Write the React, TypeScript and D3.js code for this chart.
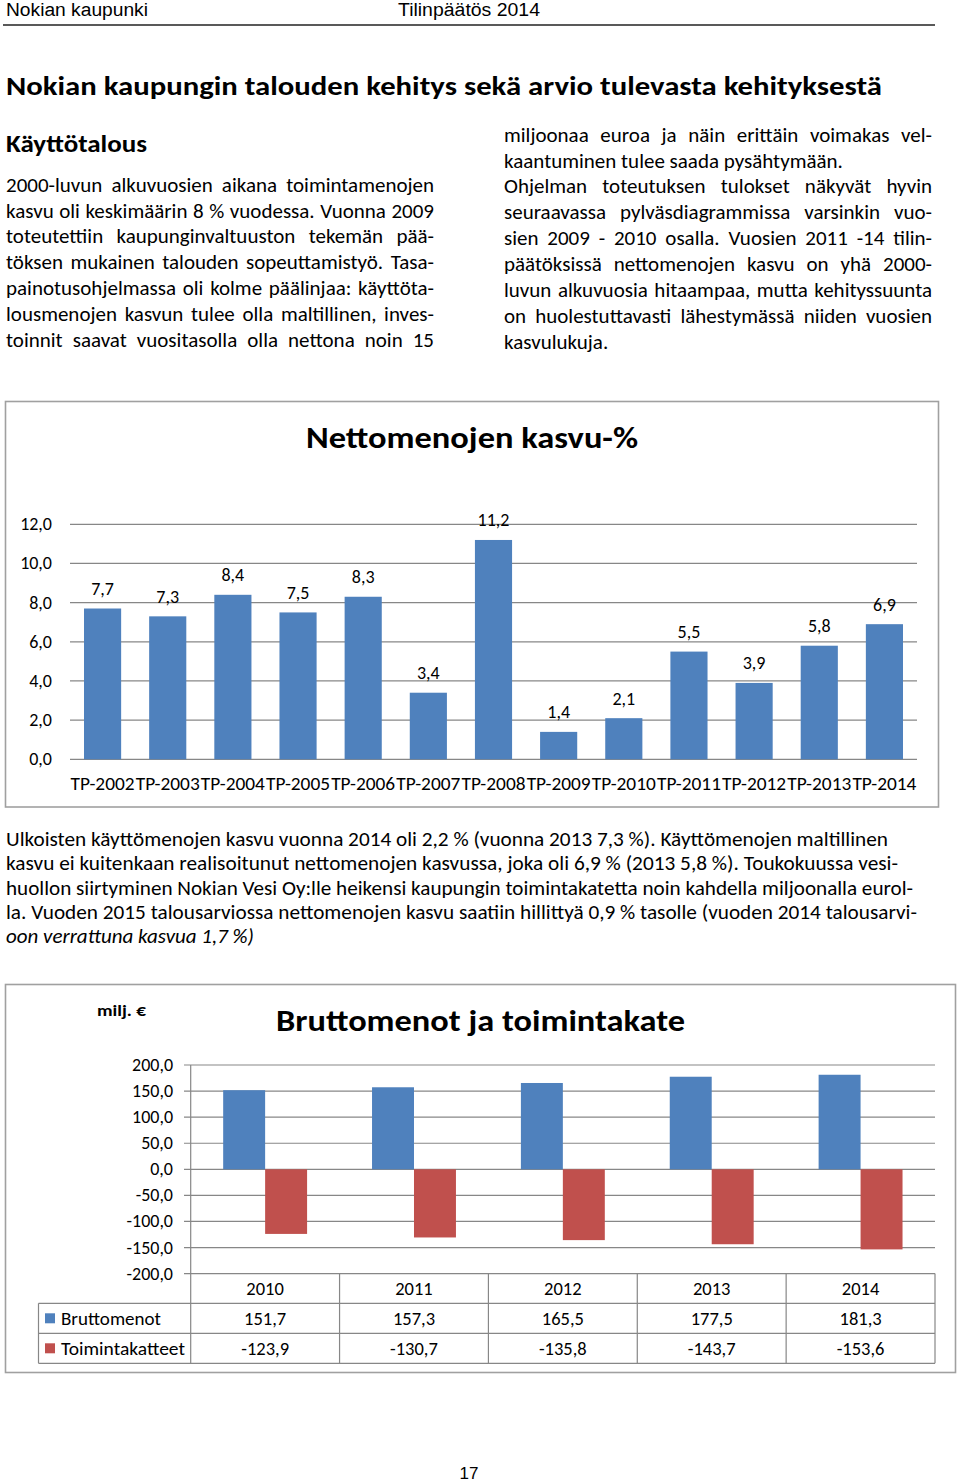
import React, { useEffect, useRef } from "react";
import * as d3 from "d3";

// ---------- DATA ----------
const growthYears = [
  "TP-2002", "TP-2003", "TP-2004", "TP-2005", "TP-2006", "TP-2007", "TP-2008",
  "TP-2009", "TP-2010", "TP-2011", "TP-2012", "TP-2013", "TP-2014",
];
const growthValues = [7.7, 7.3, 8.4, 7.5, 8.3, 3.4, 11.2, 1.4, 2.1, 5.5, 3.9, 5.8, 6.9];
const growthTicks = [0, 2, 4, 6, 8, 10, 12];

const grossYears = ["2010", "2011", "2012", "2013", "2014"];
const grossSpending = [151.7, 157.3, 165.5, 177.5, 181.3];
const operatingMargin = [-123.9, -130.7, -135.8, -143.7, -153.6];
const grossTicks = [200, 150, 100, 50, 0, -50, -100, -150, -200];
const seriesNames = ["Bruttomenot", "Toimintakatteet"];
const seriesColors = ["#4f81bd", "#c0504d"];

const leftLines = [
  "2000-luvun alkuvuosien aikana toimintamenojen",
  "kasvu oli keskimäärin 8 % vuodessa. Vuonna 2009",
  "toteutettiin kaupunginvaltuuston tekemän pää-",
  "töksen mukainen talouden sopeuttamistyö. Tasa-",
  "painotusohjelmassa oli kolme päälinjaa: käyttöta-",
  "lousmenojen kasvun tulee olla maltillinen, inves-",
  "toinnit saavat vuositasolla olla nettona noin 15",
];
const leftJustify = [true, true, true, true, true, true, true];

const rightLines = [
  "miljoonaa euroa ja näin erittäin voimakas vel-",
  "kaantuminen tulee saada pysähtymään.",
  "Ohjelman toteutuksen tulokset näkyvät hyvin",
  "seuraavassa pylväsdiagrammissa varsinkin vuo-",
  "sien 2009 - 2010 osalla. Vuosien 2011 -14 tilin-",
  "päätöksissä nettomenojen kasvu on yhä 2000-",
  "luvun alkuvuosia hitaampaa, mutta kehityssuunta",
  "on huolestuttavasti lähestymässä niiden vuosien",
  "kasvulukuja.",
];
const rightJustify = [true, false, true, true, true, true, true, true, false];

const lowerLines = [
  "Ulkoisten käyttömenojen kasvu vuonna 2014 oli 2,2 % (vuonna 2013 7,3 %). Käyttömenojen maltillinen",
  "kasvu ei kuitenkaan realisoitunut nettomenojen kasvussa, joka oli 6,9 % (2013 5,8 %). Toukokuussa vesi-",
  "huollon siirtyminen Nokian Vesi Oy:lle heikensi kaupungin toimintakatetta noin kahdella miljoonalla eurol-",
  "la. Vuoden 2015 talousarviossa nettomenojen kasvu saatiin hillittyä 0,9 % tasolle (vuoden 2014 talousarvi-",
  "oon verrattuna kasvua 1,7 %)",
];
const lowerWidths = [882, 892, 907, 911, 248];

const fmt = (v: number) => v.toFixed(1).replace(".", ",");
const FONT = "Carlito, Calibri, Lato, 'Noto Sans', sans-serif";
const GRID = "#878787";

export default function App() {
  const ref = useRef<SVGSVGElement>(null);

  useEffect(() => {
    const apply = () => {
      const svg = d3.select(ref.current);
      svg.selectAll<SVGTextElement, unknown>("text[data-justify]").each(function () {
        const el = this;
        const target = +(el.getAttribute("data-justify") || 0);
        el.style.wordSpacing = "0px";
        el.removeAttribute("textLength");
        const natural = el.getComputedTextLength();
        const spaces = ((el.textContent || "").match(/ /g) || []).length;
        const ws = spaces ? (target - natural) / spaces : 0;
        if (spaces && ws > -1.5) {
          el.style.wordSpacing = ws + "px";
        } else {
          el.setAttribute("textLength", String(target));
          el.setAttribute("lengthAdjust", "spacingAndGlyphs");
        }
      });
      svg.selectAll<SVGTextElement, unknown>("text[data-fit]").each(function () {
        const el = this;
        const target = +(el.getAttribute("data-fit") || 0);
        el.removeAttribute("textLength");
        const natural = el.getComputedTextLength();
        if (Math.abs(natural - target) > 1) {
          el.setAttribute("textLength", String(target));
          el.setAttribute("lengthAdjust", "spacingAndGlyphs");
        }
      });
    };
    apply();
    if ((document as any).fonts && (document as any).fonts.ready) {
      (document as any).fonts.ready.then(apply);
    }
  }, []);

  // ---------- Chart 1 scales ----------
  const x1 = d3.scaleBand<string>().domain(growthYears).range([70, 917]).paddingInner(0.43).paddingOuter(0.215);
  const y1 = d3.scaleLinear().domain([0, 12]).range([759.3, 524.3]);

  // ---------- Chart 2 scales ----------
  const x2 = d3.scaleBand<string>().domain(grossYears).range([190.7, 935]).padding(0);
  const xs = d3.scaleBand<string>().domain(seriesNames).range([0, x2.step()]).paddingInner(0).paddingOuter(0.774);
  const y2 = d3.scaleLinear().domain([-200, 200]).range([1273.6, 1065]);
  const seriesData = [grossSpending, operatingMargin];
  const rowY = [1303.3, 1333.3, 1363.3];

  return (
    <svg
      ref={ref}
      width={960}
      height={1484}
      style={{ position: "absolute", left: 0, top: 0, background: "#fff" }}
      fontFamily={FONT}
    >
      <rect x={0} y={0} width={960} height={1484} fill="#fff" />
      {/* header */}
      <text x={6} y={16} fontFamily="'Liberation Sans', Arial, sans-serif" fontSize={18} data-fit={142}>
        Nokian kaupunki
      </text>
      <text x={398} y={16} fontFamily="'Liberation Sans', Arial, sans-serif" fontSize={18} data-fit={142}>
        Tilinpäätös 2014
      </text>
      <line x1={3} x2={935} y1={25} y2={25} stroke="#222" strokeWidth={1.3} />

      <text x={6} y={95} fontSize={26} fontWeight="bold" data-fit={876}>
        Nokian kaupungin talouden kehitys sekä arvio tulevasta kehityksestä
      </text>
      <text x={6} y={152} fontSize={25} fontWeight="bold" data-fit={141}>
        Käyttötalous
      </text>

      {leftLines.map((t, i) => (
        <text
          key={"l" + i}
          x={6}
          y={191.7 + i * 25.85}
          fontSize={21}
          {...(leftJustify[i] ? { "data-justify": 428 } : {})}
        >
          {t}
        </text>
      ))}
      {rightLines.map((t, i) => (
        <text
          key={"r" + i}
          x={504}
          y={141.7 + i * 25.85}
          fontSize={21}
          {...(rightJustify[i] ? { "data-justify": 428 } : {})}
        >
          {t}
        </text>
      ))}

      {/* ---------- Chart 1 ---------- */}
      <rect x={5.5} y={401.5} width={933} height={405.5} fill="#fff" stroke="#a0a0a0" strokeWidth={1.6} />
      <text x={472} y={448} fontSize={30} fontWeight="bold" textAnchor="middle" data-fit={332}>
        Nettomenojen kasvu-%
      </text>
      {growthTicks.map((t) => (
        <g key={"g1" + t}>
          <line x1={70} x2={917} y1={y1(t)} y2={y1(t)} stroke={GRID} strokeWidth={1.2} />
          <text x={52} y={y1(t) + 6} fontSize={18} textAnchor="end">
            {fmt(t)}
          </text>
        </g>
      ))}
      {growthYears.map((c, i) => (
        <g key={"b1" + c}>
          <rect
            x={x1(c)}
            y={y1(growthValues[i])}
            width={x1.bandwidth()}
            height={y1(0) - y1(growthValues[i])}
            fill="#4f81bd"
          />
          <text
            x={(x1(c) as number) + x1.bandwidth() / 2}
            y={y1(growthValues[i]) - 13.5}
            fontSize={18}
            textAnchor="middle"
          >
            {fmt(growthValues[i])}
          </text>
          <text
            x={(x1(c) as number) + x1.bandwidth() / 2}
            y={790}
            fontSize={18}
            textAnchor="middle"
            data-fit={64}
          >
            {c}
          </text>
        </g>
      ))}

      {/* lower paragraph */}
      {lowerLines.map((t, i) => (
        <text
          key={"p" + i}
          x={6}
          y={845.7 + i * 24.4}
          fontSize={19.5}
          fontStyle={i === 4 ? "italic" : "normal"}
          data-fit={lowerWidths[i]}
        >
          {t}
        </text>
      ))}

      {/* ---------- Chart 2 ---------- */}
      <rect x={5.5} y={984.5} width={950} height={388} fill="#fff" stroke="#a0a0a0" strokeWidth={1.6} />
      <text x={97} y={1016} fontSize={16.5} fontWeight="bold" data-fit={49}>
        milj. €
      </text>
      <text x={276} y={1031} fontSize={30} fontWeight="bold" data-fit={409}>
        Bruttomenot ja toimintakate
      </text>
      {grossTicks.map((t) => (
        <g key={"g2" + t}>
          <line x1={184} x2={935} y1={y2(t)} y2={y2(t)} stroke={GRID} strokeWidth={1.2} />
          <text x={173} y={y2(t) + 6} fontSize={18} textAnchor="end">
            {fmt(t)}
          </text>
        </g>
      ))}
      {grossYears.map((c, i) => (
        <g key={"b2" + c}>
          {seriesNames.map((s, j) => {
            const v = seriesData[j][i];
            return (
              <rect
                key={s}
                x={(x2(c) as number) + (xs(s) as number)}
                y={Math.min(y2(v), y2(0))}
                width={xs.bandwidth()}
                height={Math.abs(y2(v) - y2(0))}
                fill={seriesColors[j]}
              />
            );
          })}
        </g>
      ))}
      {/* data table */}
      <line x1={190.7} x2={190.7} y1={1065} y2={rowY[2]} stroke={GRID} strokeWidth={1.2} />
      {grossYears.map((c) => (
        <line
          key={"v" + c}
          x1={(x2(c) as number) + x2.step()}
          x2={(x2(c) as number) + x2.step()}
          y1={y2(-200)}
          y2={rowY[2]}
          stroke={GRID}
          strokeWidth={1.2}
        />
      ))}
      {rowY.map((y, k) => (
        <line key={"h" + k} x1={38.5} x2={935} y1={y} y2={y} stroke={GRID} strokeWidth={1.2} />
      ))}
      <line x1={38.5} x2={38.5} y1={rowY[0]} y2={rowY[2]} stroke={GRID} strokeWidth={1.2} />
      {grossYears.map((c, i) => {
        const cx = (x2(c) as number) + x2.step() / 2;
        return (
          <g key={"t" + c}>
            <text x={cx} y={1295} fontSize={18.5} textAnchor="middle">{c}</text>
            <text x={cx} y={1324.5} fontSize={18.5} textAnchor="middle">{fmt(grossSpending[i])}</text>
            <text x={cx} y={1354.5} fontSize={18.5} textAnchor="middle">{fmt(operatingMargin[i])}</text>
          </g>
        );
      })}
      {seriesNames.map((s, j) => (
        <g key={"lg" + s}>
          <rect x={45} y={rowY[j] + 10} width={10} height={10} fill={seriesColors[j]} />
          <text x={61} y={rowY[j] + 21.2} fontSize={18.5} data-fit={j === 0 ? 100 : 124}>{s}</text>
        </g>
      ))}

      {/* page number */}
      <text x={469} y={1479} fontFamily="'Liberation Sans', Arial, sans-serif" fontSize={17} textAnchor="middle">
        17
      </text>
    </svg>
  );
}
